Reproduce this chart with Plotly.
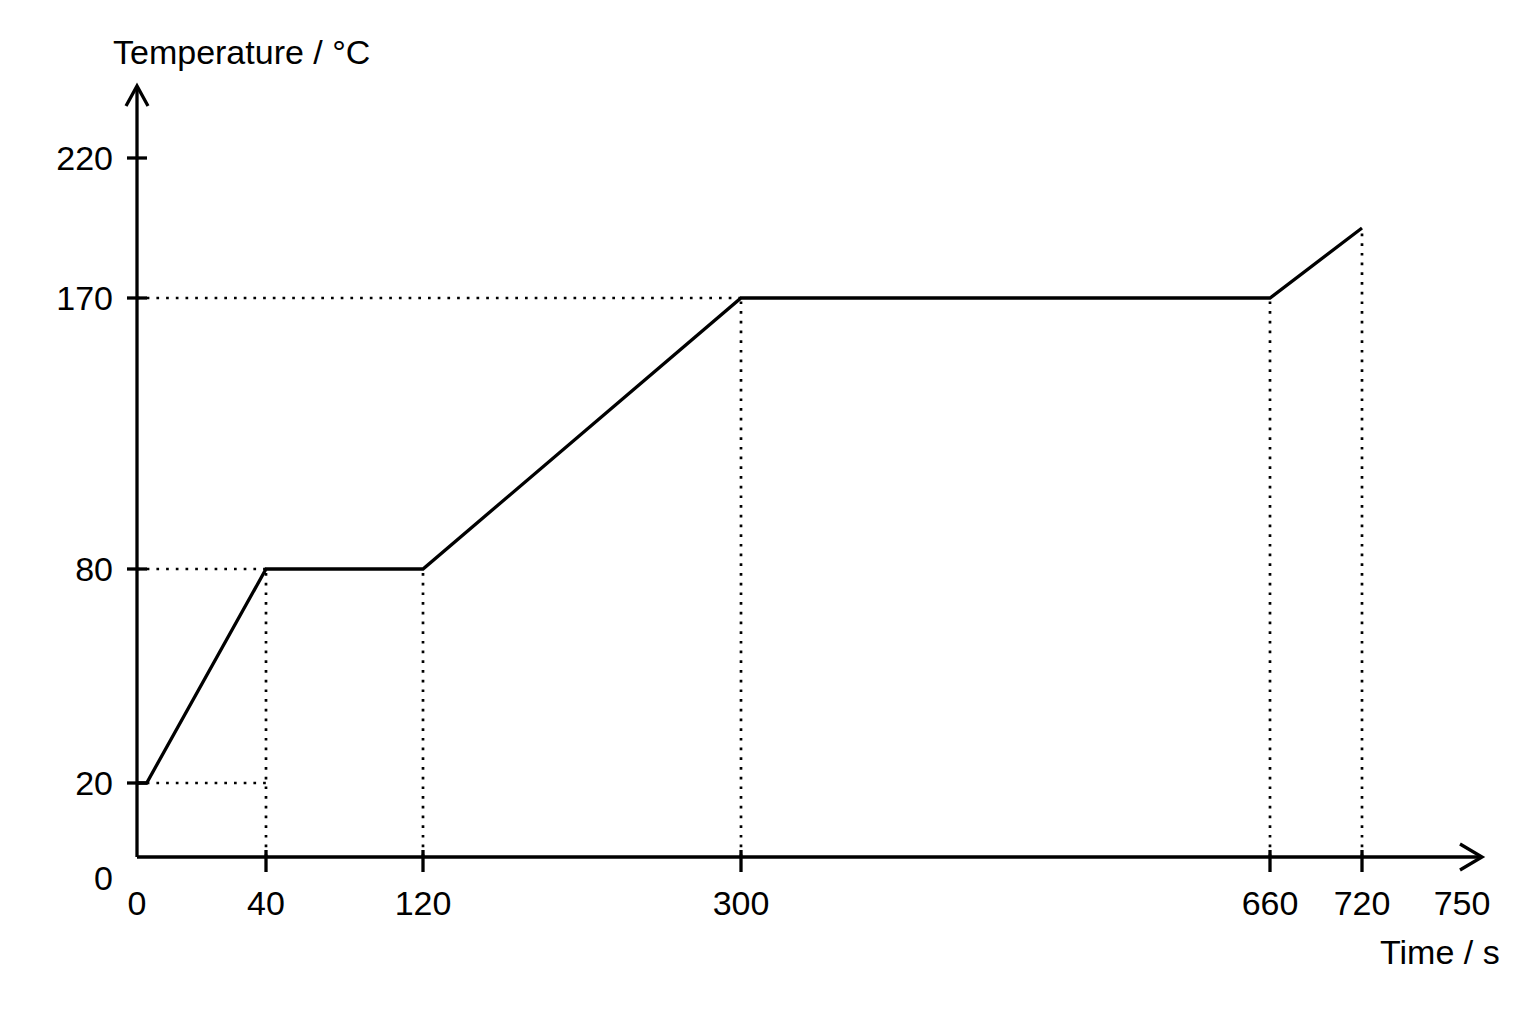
import numpy as np
import plotly.graph_objects as go

# temperature profile (schematic)
time_s = [0, 3, 40, 120, 300, 660, 720]
temp_c = [20, 20, 80, 80, 170, 170, 195]

# axis labels
x_ticks = [0, 40, 120, 300, 660, 720, 750]
y_ticks = [0, 20, 80, 170, 220]

# guide lines
h_levels = [20, 80, 170]
h_ends = [40, 40, 300]
v_times = [40, 120, 300, 660, 720]

# the drawing is schematic: axes are not to scale, so each tick gets its own spot
W, H = 1345, 771
x_pos = [0, 129, 286, 604, 1133, 1225, 1325]
y_pos = [0, 74, 288, 559, 699]

# page body adds an 8px offset
OFF = 8
L, T = 137 - OFF, 86 - OFF
FIG_W, FIG_H = 1536 - 2 * OFF, 1024 - 2 * OFF


def sx(v):
    return np.interp(v, x_ticks, x_pos)


def sy(v):
    return np.interp(v, y_ticks, y_pos)


FONT = "Liberation Sans, Arial, sans-serif"
FS = 34
LW = 3.3
dots = dict(color="black", width=2.7, dash="2.7px,7px")

fig = go.Figure()

for lvl, end in zip(h_levels, h_ends):
    fig.add_trace(go.Scatter(x=sx([0, end]), y=sy([lvl, lvl]), mode="lines", line=dots,
                             hoverinfo="skip"))
for t in v_times:
    top = np.interp(t, time_s, temp_c)
    fig.add_trace(go.Scatter(x=sx([t, t]), y=sy([0, top]), mode="lines", line=dots,
                             hoverinfo="skip"))

fig.add_trace(go.Scatter(x=sx(time_s), y=sy(temp_c), mode="lines",
                         line=dict(color="black", width=LW), name="T"))

axis_line = dict(color="black", width=LW)
shapes = [
    # axis lines, centred on the plot edges
    dict(type="line", xref="paper", yref="paper", x0=0, x1=1, y0=0, y1=0, line=axis_line),
    dict(type="line", xref="paper", yref="paper", x0=0, x1=0, y0=0, y1=1, line=axis_line),
]
# crossing tick marks
for t in x_ticks[1:-1]:
    px = sx(t) / W
    shapes.append(dict(type="line", xref="paper", yref="paper", x0=px, x1=px,
                       y0=-15 / H, y1=7 / H, line=axis_line))
for v in y_ticks[1:]:
    py = sy(v) / H
    shapes.append(dict(type="line", xref="paper", yref="paper", x0=-10 / W, x1=10 / W,
                       y0=py, y1=py, line=axis_line))
# open arrow heads at the axis ends
shapes.append(dict(type="path", xref="paper", yref="paper",
                   path="M %f,%f L 1,0 L %f,%f" % (1 - 22 / W, 13 / H, 1 - 22 / W, -13 / H),
                   line=axis_line))
shapes.append(dict(type="path", xref="paper", yref="paper",
                   path="M %f,%f L 0,1 L %f,%f" % (-11 / W, 1 - 20 / H, 11 / W, 1 - 20 / H),
                   line=axis_line))


def label(text, px, py):
    # px, py: centre of the text in reference pixels
    return dict(text=text, xref="paper", yref="paper", x=(px - 137) / W, y=(857 - py) / H,
                xanchor="center", yanchor="middle", showarrow=False, font=dict(size=FS))


annotations = [
    label("Temperature / °C", 241, 52),
    label("Time / s", 1440, 952),
    label("0", 103, 878),
]

fig.update_layout(
    width=FIG_W, height=FIG_H,
    margin=dict(l=L, r=FIG_W - L - W, t=T, b=FIG_H - T - H),
    plot_bgcolor="white", paper_bgcolor="white",
    showlegend=False,
    font=dict(family=FONT, size=FS, color="black"),
    shapes=shapes, annotations=annotations,
    xaxis=dict(range=[0, W], showgrid=False, zeroline=False, showline=False, ticks="",
               tickvals=sx(x_ticks), ticktext=[str(t) for t in x_ticks],
               ticklabelstandoff=23, fixedrange=True),
    yaxis=dict(range=[0, H], showgrid=False, zeroline=False, showline=False, ticks="",
               tickvals=sy(y_ticks[1:]), ticktext=[str(v) for v in y_ticks[1:]],
               ticklabelstandoff=23, fixedrange=True),
)

fig.write_html("out.html")
